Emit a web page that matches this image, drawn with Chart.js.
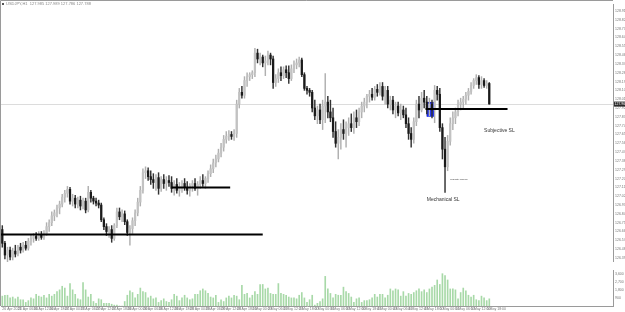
<!DOCTYPE html>
<html><head><meta charset="utf-8">
<script src="https://cdn.jsdelivr.net/npm/chart.js@4.4.1/dist/chart.umd.min.js"></script>
<style>
html,body{margin:0;padding:0;background:#fff;overflow:hidden}
#wrap{position:relative;width:625px;height:312px}
#pc{position:absolute;left:0;top:0}
#vc{position:absolute;left:0;top:266px}
</style></head><body>
<div id="wrap"><canvas id="pc" width="625" height="266"></canvas><canvas id="vc" width="625" height="46"></canvas></div>
<script>
// ---- data (prices in pips: 12796 = 127.960) ----
const symbolTitle = "USDJPY,H1  127.985 127.989 127.786 127.788";
const SLOTS = 235;
const opens = [12668,12654,12642,12647,12640,12646,12643,12650,12647,12652,
12649,12656,12659,12661,12659,12663,12660,12664,12671,12675,
12682,12685,12690,12694,12701,12705,12709,12697,12700,12694,
12698,12692,12697,12688,12706,12700,12697,12695,12693,12678,
12671,12666,12668,12659,12672,12686,12681,12684,12676,12665,
12669,12677,12685,12696,12708,12726,12728,12722,12719,12716,
12721,12710,12719,12715,12718,12716,12710,12714,12708,12712,
12715,12711,12708,12713,12715,12710,12714,12718,12715,12720,
12725,12730,12736,12740,12746,12752,12760,12763,12765,12763,
12766,12796,12808,12805,12820,12824,12826,12828,12848,12842,
12844,12838,12840,12846,12842,12818,12822,12828,12825,12831,
12828,12822,12832,12836,12838,12841,12826,12812,12810,12808,
12792,12784,12790,12780,12794,12798,12788,12782,12768,12756,
12762,12770,12766,12772,12776,12772,12782,12778,12788,12794,
12798,12804,12806,12803,12811,12808,12814,12804,12810,12796,
12800,12790,12794,12787,12790,12785,12776,12766,12760,12778,
12796,12790,12802,12798,12792,12796,12790,12810,12806,12772,
12750,12732,12758,12776,12782,12788,12796,12798,12801,12805,
12809,12815,12820,12823,12816,12820,12815,12817];
const highs = [12672,12656,12650,12650,12649,12652,12652,12654,12655,12656,
12659,12662,12664,12665,12666,12666,12667,12675,12678,12686,
12688,12693,12697,12704,12708,12712,12711,12704,12703,12701,
12702,12700,12700,12712,12708,12702,12700,12698,12695,12680,
12674,12671,12672,12674,12690,12690,12688,12687,12678,12672,
12680,12688,12700,12712,12730,12732,12731,12728,12725,12724,
12726,12722,12724,12722,12723,12722,12718,12720,12716,12718,
12720,12717,12715,12718,12720,12717,12722,12724,12722,12728,
12734,12740,12744,12750,12756,12764,12768,12769,12768,12770,
12800,12812,12814,12824,12828,12828,12830,12853,12852,12848,
12846,12845,12850,12848,12845,12826,12832,12834,12834,12835,
12835,12836,12840,12842,12844,12843,12828,12814,12812,12810,
12800,12794,12796,12800,12827,12804,12800,12792,12778,12770,
12776,12780,12778,12782,12786,12788,12790,12792,12798,12802,
12806,12810,12812,12814,12816,12818,12818,12814,12814,12804,
12804,12798,12798,12796,12794,12792,12782,12772,12782,12800,
12804,12808,12810,12804,12802,12800,12815,12814,12812,12776,
12762,12764,12782,12788,12792,12800,12802,12804,12808,12812,
12818,12822,12826,12825,12824,12822,12820,12818];
const lows = [12650,12638,12635,12637,12637,12640,12641,12644,12645,12647,
12647,12652,12655,12657,12657,12658,12658,12662,12666,12672,
12677,12681,12684,12691,12696,12701,12694,12692,12690,12690,
12688,12689,12685,12686,12696,12694,12692,12690,12676,12668,
12662,12660,12655,12657,12670,12678,12676,12673,12662,12652,
12664,12672,12682,12692,12705,12720,12718,12714,12710,12708,
12704,12707,12710,12708,12712,12706,12703,12705,12702,12706,
12708,12704,12702,12707,12708,12703,12710,12712,12710,12716,
12722,12726,12732,12737,12742,12748,12756,12759,12760,12759,
12762,12792,12802,12802,12814,12820,12822,12824,12838,12836,
12834,12825,12836,12836,12812,12814,12818,12820,12822,12823,
12817,12820,12828,12832,12834,12824,12810,12806,12804,12788,
12780,12776,12776,12770,12777,12782,12778,12762,12752,12740,
12750,12760,12752,12764,12768,12766,12772,12774,12782,12788,
12792,12798,12800,12800,12804,12805,12800,12796,12792,12790,
12786,12782,12784,12780,12782,12772,12760,12752,12756,12774,
12782,12788,12792,12786,12784,12782,12777,12800,12768,12740,
12706,12728,12754,12770,12776,12784,12790,12792,12796,12800,
12806,12812,12816,12812,12812,12813,12812,12796];
const closes = [12654,12642,12647,12640,12646,12643,12650,12647,12652,12649,
12656,12659,12661,12659,12663,12660,12664,12671,12675,12682,
12685,12690,12694,12701,12705,12709,12697,12700,12694,12698,
12692,12697,12688,12706,12700,12697,12695,12693,12678,12671,
12666,12668,12659,12672,12686,12681,12684,12676,12665,12669,
12677,12685,12696,12708,12726,12728,12722,12719,12716,12721,
12710,12719,12715,12718,12716,12710,12714,12708,12712,12715,
12711,12708,12713,12715,12710,12714,12718,12715,12720,12725,
12730,12736,12740,12746,12752,12760,12763,12765,12763,12766,
12796,12808,12805,12820,12824,12826,12828,12848,12842,12844,
12838,12840,12846,12842,12818,12822,12828,12825,12831,12828,
12822,12832,12836,12838,12841,12826,12812,12810,12808,12792,
12784,12790,12780,12794,12798,12788,12782,12768,12756,12762,
12770,12766,12772,12776,12772,12782,12778,12788,12794,12798,
12804,12806,12803,12811,12808,12814,12804,12810,12796,12800,
12790,12794,12787,12790,12785,12776,12766,12760,12778,12796,
12790,12802,12798,12792,12796,12790,12810,12806,12772,12750,
12732,12758,12776,12782,12788,12796,12798,12801,12805,12809,
12815,12820,12823,12816,12820,12815,12817,12796];
const volumes = [1100,1200,1200,900,1000,800,1000,700,700,400,
600,900,800,1300,1100,1000,1200,900,1300,1100,
1300,1600,1800,2200,2000,1100,2500,1800,1300,800,
700,2600,1800,1000,1300,500,300,800,700,300,
300,300,200,100,100,0,0,500,1200,1700,
1500,900,1300,2000,1600,1500,900,1100,800,900,
400,600,800,500,400,700,1300,1100,600,900,
1200,900,700,800,1300,1300,1700,1900,1700,1400,
1000,900,1200,400,700,500,900,1100,900,1200,
1100,700,2300,1300,1400,900,1200,1600,1300,2400,
2400,1900,2000,1400,1300,1300,2500,1400,1300,1200,
1000,900,900,800,1200,1500,900,400,700,1200,
100,300,500,800,3300,1900,1400,900,1300,1200,
1200,2100,1600,1400,1000,400,800,900,400,600,
600,700,900,1300,1000,1300,1300,900,1200,1900,
1700,1900,1800,1100,1600,1100,1400,1300,1500,1700,
1900,1600,1800,1500,1900,2100,2300,2900,2400,3600,
3400,2900,1900,1900,1800,800,1500,2000,1700,1200,
1000,1200,700,600,1100,900,600,800];
const timeTicks = ["26 Apr 2022","26 Apr 06:00","26 Apr 12:00","26 Apr 18:00","27 Apr 00:00","27 Apr 06:00","27 Apr 12:00","27 Apr 18:00",
"28 Apr 00:00","28 Apr 06:00","28 Apr 12:00","28 Apr 18:00","29 Apr 00:00","29 Apr 06:00","29 Apr 12:00","29 Apr 18:00",
"2 May 00:00","2 May 06:00","2 May 12:00","2 May 18:00","3 May 00:00","3 May 06:00","3 May 12:00","3 May 18:00",
"4 May 00:00","4 May 06:00","4 May 12:00","4 May 18:00","5 May 00:00","5 May 06:00","5 May 12:00","5 May 18:00"];
const priceTicks = [12891,12882,12873,12864,12855,12846,12837,12828,12819,12810,12801,12792,12783,12774,12765,12756,12747,12738,12729,12720,12711,12702,12693,12684,12675,12666,12657,12648,12639];
const volumeTicks = [3600,2700,1800,900];
const currentPrice = 12796;
const levels = [
  {price:12663, from:-0.5, to:100},
  {price:12711, from:65, to:87.5},
  {price:12791, from:162.5, to:194}
];
const zone = {index:164.5, low:12783, high:12798};
const notes = [
  {text:"Subjective SL", index:185, price:12769, size:5},
  {text:"Mechanical SL", index:163, price:12699, size:5},
  {text:"Liquidity Sweep", index:172, price:12719, size:2.5}
];

// ---- drawing ----
const FONT = "'Liberation Sans', Arial, sans-serif";
Chart.defaults.font.family = FONT;
const idx = opens.map((_, i) => i);
const candleColors = idx.map(i => closes[i] >= opens[i] ? '#c2c2c2' : '#1a1a1a');
const wickColors = idx.map(i => closes[i] >= opens[i] ? '#b0b0b0' : '#333333');
const noGrid = {display: false, drawTicks: false, tickLength: 0};

const overlay = {
  id: 'overlay',
  beforeDatasetsDraw(chart) {
    const {ctx, chartArea: a, scales: {y}} = chart;
    const py = Math.round(y.getPixelForValue(currentPrice)) + 0.5;
    ctx.save();
    ctx.strokeStyle = '#dcdcdc'; ctx.lineWidth = 1;
    ctx.beginPath(); ctx.moveTo(a.left, py); ctx.lineTo(a.right, py); ctx.stroke();
    ctx.restore();
  },
  afterDraw(chart) {
    const {ctx, chartArea: a, scales: {x, y}} = chart;
    ctx.save();
    ctx.strokeStyle = '#9a9a9a'; ctx.lineWidth = 1;
    ctx.beginPath(); ctx.moveTo(0.5, 266); ctx.lineTo(0.5, 0.5); ctx.lineTo(a.right, 0.5); ctx.stroke();
    ctx.textAlign = 'left'; ctx.textBaseline = 'middle';
    notes.forEach(n => {
      ctx.font = n.size + 'px ' + FONT;
      ctx.fillStyle = '#333';
      ctx.fillText(n.text, x.getPixelForValue(n.index), y.getPixelForValue(n.price));
    });
    ctx.fillStyle = '#555'; ctx.fillRect(2, 3, 2, 2);
    ctx.font = '4px ' + FONT; ctx.fillStyle = '#888';
    ctx.fillText(symbolTitle, 6, 4);
    const py = y.getPixelForValue(currentPrice);
    ctx.fillStyle = '#2a2a2a'; ctx.fillRect(a.right + 1, py - 2.5, 11, 5);
    ctx.fillStyle = '#fff'; ctx.font = '3.5px ' + FONT;
    ctx.fillText((currentPrice / 100).toFixed(3), a.right + 1.5, py);
    ctx.restore();
  }
};

const xCfg = {type: 'linear', min: -0.5, max: SLOTS - 0.5, offset: false, display: false};

new Chart(document.getElementById('pc'), {
  type: 'bar',
  data: {datasets: [
    ...levels.map(l => ({type: 'line', data: [{x: l.from, y: l.price}, {x: l.to, y: l.price}],
      borderColor: '#000', borderWidth: 2, pointRadius: 0, order: 0})),
    {type: 'bar', data: idx.map(i => ({x: i, y: [opens[i], closes[i]]})), backgroundColor: candleColors,
      barThickness: 1.6, grouped: false, minBarLength: 1, order: 1},
    {type: 'bar', data: idx.map(i => ({x: i, y: [lows[i], highs[i]]})), backgroundColor: wickColors,
      barThickness: 0.8, grouped: false, order: 2},
    {type: 'bar', data: [{x: zone.index, y: [zone.low, zone.high]}], backgroundColor: '#1428f5',
      borderColor: '#0a0a90', borderWidth: 0.6, barThickness: 8, grouped: false, order: 3}
  ]},
  options: {
    responsive: false, devicePixelRatio: 1, animation: false,
    layout: {padding: {top: 2, bottom: 1, left: 1, right: 0}},
    plugins: {legend: {display: false}, tooltip: {enabled: false}},
    scales: {
      x: xCfg,
      y: {position: 'right', min: 12635, max: 12898,
        grid: noGrid, border: {display: true, color: '#9a9a9a'},
        afterBuildTicks: s => { s.ticks = priceTicks.map(v => ({value: v})); },
        afterFit: s => { s.width = 12; },
        ticks: {font: {size: 3.5}, color: '#777', padding: 2, callback: v => (v / 100).toFixed(3)}}
    }
  },
  plugins: [overlay]
});

const volFrame = {
  id: 'volFrame',
  afterDraw(chart) {
    const {ctx, chartArea: a} = chart;
    ctx.save(); ctx.strokeStyle = '#9a9a9a'; ctx.lineWidth = 1;
    ctx.beginPath(); ctx.moveTo(0.5, 0); ctx.lineTo(0.5, a.bottom); ctx.stroke(); ctx.restore();
  }
};

new Chart(document.getElementById('vc'), {
  type: 'bar',
  data: {datasets: [{data: idx.map(i => ({x: i, y: volumes[i]})), backgroundColor: '#a8d9a8', barThickness: 1}]},
  options: {
    responsive: false, devicePixelRatio: 1, animation: false,
    layout: {padding: {top: 0, bottom: 0, left: 1, right: 0}},
    plugins: {legend: {display: false}, tooltip: {enabled: false}},
    scales: {
      x: {type: 'linear', min: -0.5, max: SLOTS - 0.5, offset: false,
        grid: noGrid, border: {display: true, color: '#9a9a9a'},
        afterBuildTicks: s => { s.ticks = timeTicks.map((t, k) => ({value: k * 6})); },
        afterFit: s => { s.height = 6; },
        ticks: {font: {size: 3.5}, color: '#777', padding: 1, maxRotation: 0, autoSkip: false, align: 'start',
          callback: (v, i) => timeTicks[i]}},
      y: {position: 'right', min: 0, max: 4000,
        grid: noGrid, border: {display: true, color: '#9a9a9a'},
        afterBuildTicks: s => { s.ticks = volumeTicks.map(v => ({value: v})); },
        afterFit: s => { s.width = 12; },
        ticks: {font: {size: 3.5}, color: '#777', padding: 2}}
    }
  },
  plugins: [volFrame]
});
</script>
</body></html>
